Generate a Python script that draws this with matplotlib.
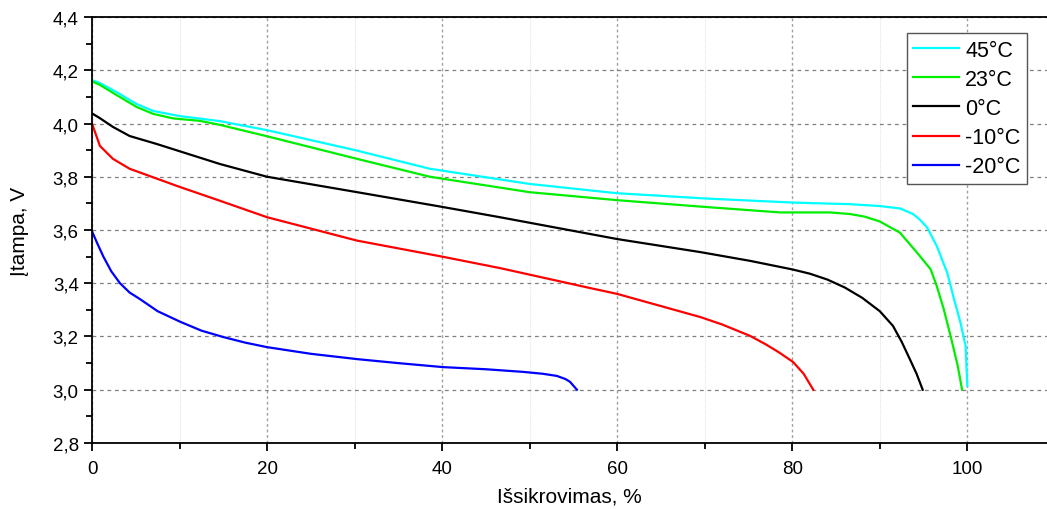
import matplotlib
matplotlib.use("Agg")
import matplotlib.pyplot as plt
from matplotlib.ticker import MultipleLocator, FuncFormatter

plt.rcParams['font.family'] = ['Liberation Sans', 'DejaVu Sans']
plt.rcParams['font.size'] = 13

# discharge curves: capacity discharged (%) vs voltage (V)
x_45 = [0, 0.9, 2.8, 5.1, 7, 10, 14.6, 20, 30.3, 38.6, 50, 60, 70.3, 80.1, 86.6, 90, 92.3, 93.8,
        94.6, 95.4, 96.5, 97.7, 98.4, 99.2, 99.8, 100]
v_45 = [4.163, 4.152, 4.118, 4.073, 4.047, 4.028, 4.009, 3.975, 3.898, 3.83, 3.773, 3.738, 3.718,
        3.703, 3.697, 3.69, 3.681, 3.66, 3.638, 3.61, 3.54, 3.44, 3.35, 3.254, 3.165, 3.015]

x_23 = [0, 0.9, 2.8, 5.1, 7, 9.3, 12.3, 14.6, 20, 30.3, 38.6, 50, 60, 70.3, 78.6, 84.3, 86.6, 88.3,
        90, 92.3, 94.2, 95.8, 96.5, 97.3, 98.1, 98.9, 99.4]
v_23 = [4.158, 4.145, 4.107, 4.062, 4.036, 4.019, 4.01, 3.995, 3.952, 3.867, 3.80, 3.742, 3.712,
        3.686, 3.666, 3.666, 3.66, 3.65, 3.632, 3.59, 3.517, 3.453, 3.39, 3.303, 3.20, 3.09, 3.0]

x_0 = [0, 0.9, 2.4, 4.3, 7.4, 14.6, 20, 30.3, 39.8, 46.6, 60, 69.5, 75.2, 80, 82, 84, 86, 88,
       90, 91.5, 92.5, 93.5, 94.2, 94.9]
v_0 = [4.038, 4.02, 3.987, 3.953, 3.923, 3.848, 3.80, 3.742, 3.688, 3.648, 3.566, 3.517, 3.484,
       3.452, 3.436, 3.414, 3.384, 3.345, 3.295, 3.24, 3.18, 3.11, 3.06, 3.0]

x_m10 = [0, 0.9, 2.4, 4.3, 7.4, 10, 14.6, 20, 30.3, 40, 46.6, 56.9, 60, 69.5, 72, 75.2, 77,
         78.5, 80.1, 81.3, 82.4]
v_m10 = [4.0, 3.916, 3.867, 3.83, 3.793, 3.762, 3.71, 3.648, 3.56, 3.5, 3.457, 3.382, 3.36,
         3.273, 3.245, 3.202, 3.17, 3.14, 3.104, 3.06, 3.0]

x_m20 = [0, 0.6, 1.3, 2.2, 3.2, 4.3, 5.5, 7.5, 10.1, 12.5, 15, 17.5, 20, 25, 30.3, 35, 40.1,
         45, 49.3, 51.5, 53.1, 54.1, 54.6, 55.4]
v_m20 = [3.595, 3.55, 3.50, 3.445, 3.40, 3.365, 3.34, 3.295, 3.255, 3.222, 3.198, 3.177, 3.16,
         3.135, 3.115, 3.1, 3.085, 3.077, 3.067, 3.06, 3.052, 3.04, 3.03, 3.0]

labels = ['45°C', '23°C', '0°C', '-10°C', '-20°C']
colors = ['#00ffff', '#00ee00', 'black', 'red', 'blue']

fig = plt.figure(figsize=(10.47, 5.10), dpi=100)
ax = fig.add_axes([92/1047, 1 - 444/510, 955/1047, 426/510])

series = [(x_45, v_45), (x_23, v_23), (x_0, v_0), (x_m10, v_m10), (x_m20, v_m20)]
for (xs, vs), lab, c in zip(series, labels, colors):
    ax.plot(xs, vs, color=c, lw=1.6, label=lab, solid_joinstyle='round')

ax.set_xlim(0, 109.1)
ax.set_ylim(2.8, 4.4)
ax.xaxis.set_major_locator(MultipleLocator(20))
ax.xaxis.set_minor_locator(MultipleLocator(10))
ax.yaxis.set_major_locator(MultipleLocator(0.2))
ax.yaxis.set_minor_locator(MultipleLocator(0.1))
ax.yaxis.set_major_formatter(FuncFormatter(lambda v, p: f"{v:.1f}".replace('.', ',')))

ax.tick_params(which='major', direction='out', length=6, width=1.3, color='black', labelsize=13.5)
ax.tick_params(which='minor', direction='out', length=4, width=1.3, color='black')
ax.tick_params(axis='x', pad=6)

ax.grid(True, axis='y', which='major', color='#808080', ls=(0, (3, 3)), lw=0.9)
ax.grid(True, axis='x', which='major', color='#a0a0a0', ls=(0, (2, 2)), lw=1.0)
ax.grid(True, axis='x', which='minor', color='#e4e4e4', ls=(0, (1, 1)), lw=0.8)
ax.set_axisbelow(True)

for s in ['left', 'bottom', 'top']:
    ax.spines[s].set_linewidth(1.3)
ax.spines['right'].set_visible(False)

ax.set_xlabel('Išsikrovimas, %', fontsize=15)
ax.set_ylabel('Įtampa, V', fontsize=15)
ax.xaxis.set_label_coords(0.5, -0.103)
ax.yaxis.set_label_coords(-0.066, 0.5)

leg = ax.legend(loc='upper right', bbox_to_anchor=(0.979, 0.962), borderaxespad=0,
                fancybox=False, framealpha=1, edgecolor='#555555', fontsize=15.5,
                handlelength=2.1, handletextpad=0.3, labelspacing=0.38,
                borderpad=0.3)
leg.get_frame().set_linewidth(1.0)

fig.savefig('out.png', dpi=100)
